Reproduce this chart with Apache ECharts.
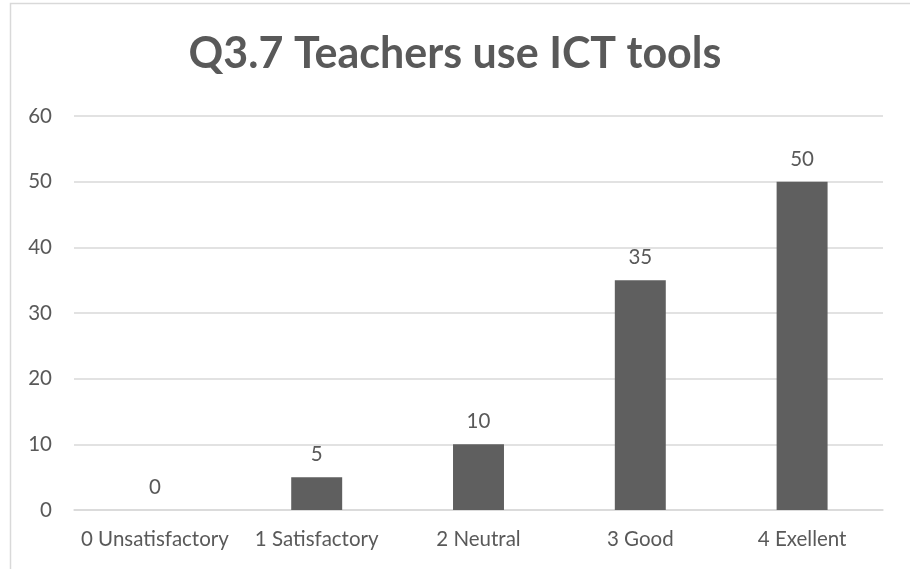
<!DOCTYPE html>
<html>
<head>
<meta charset="utf-8">
<script src="https://cdn.jsdelivr.net/npm/echarts@6/dist/echarts.min.js"></script>
<style>
  html, body { margin: 0; padding: 0; background: #fff; }
  #chart { width: 910px; height: 569px; }
</style>
</head>
<body>
<div id="chart"></div>
<script>
// Survey responses for question 3.7
const categories = ['0 Unsatisfactory', '1 Satisfactory', '2 Neutral', '3 Good', '4 Exellent'];
const counts = [0, 5, 10, 35, 50];
const yTicks = [0, 10, 20, 30, 40, 50, 60];

const textColor = '#595959';
const fontFamily = 'Lato, "Open Sans", sans-serif';

const chart = echarts.init(document.getElementById('chart'), null, { renderer: 'canvas' });
chart.setOption({
  animation: false,
  backgroundColor: '#fff',
  graphic: [{
    type: 'rect',
    shape: { x: 10.5, y: 3.5, width: 1000, height: 1000 },
    style: { fill: 'none', stroke: '#d9d9d9', lineWidth: 1.5 },
    silent: true
  }],
  title: {
    text: 'Q3.7 Teachers use ICT tools',
    left: 'center',
    top: 28,
    textStyle: { fontFamily, fontSize: 43, fontWeight: 'bold', color: textColor }
  },
  grid: { left: 74, right: 27, top: 116, bottom: 59, containLabel: false },
  xAxis: {
    type: 'category',
    data: categories,
    axisLine: { show: true, lineStyle: { color: '#d9d9d9', width: 1.5 } },
    axisTick: { show: false },
    axisLabel: { color: textColor, fontFamily, fontSize: 20.5, margin: 19, interval: 0, hideOverlap: false }
  },
  yAxis: {
    type: 'value',
    min: yTicks[0],
    max: yTicks[yTicks.length - 1],
    interval: yTicks[1] - yTicks[0],
    axisLine: { show: false },
    axisTick: { show: false },
    axisLabel: { color: textColor, fontFamily, fontSize: 20.5, margin: 22 },
    splitLine: { lineStyle: { color: '#d9d9d9', width: 1.5 } }
  },
  series: [{
    type: 'bar',
    data: counts,
    barWidth: '31.5%',
    itemStyle: { color: '#5f5f5f' },
    label: {
      show: true,
      position: 'top',
      distance: 12,
      color: textColor,
      fontFamily,
      fontSize: 20.5
    }
  }]
});
</script>
</body>
</html>
